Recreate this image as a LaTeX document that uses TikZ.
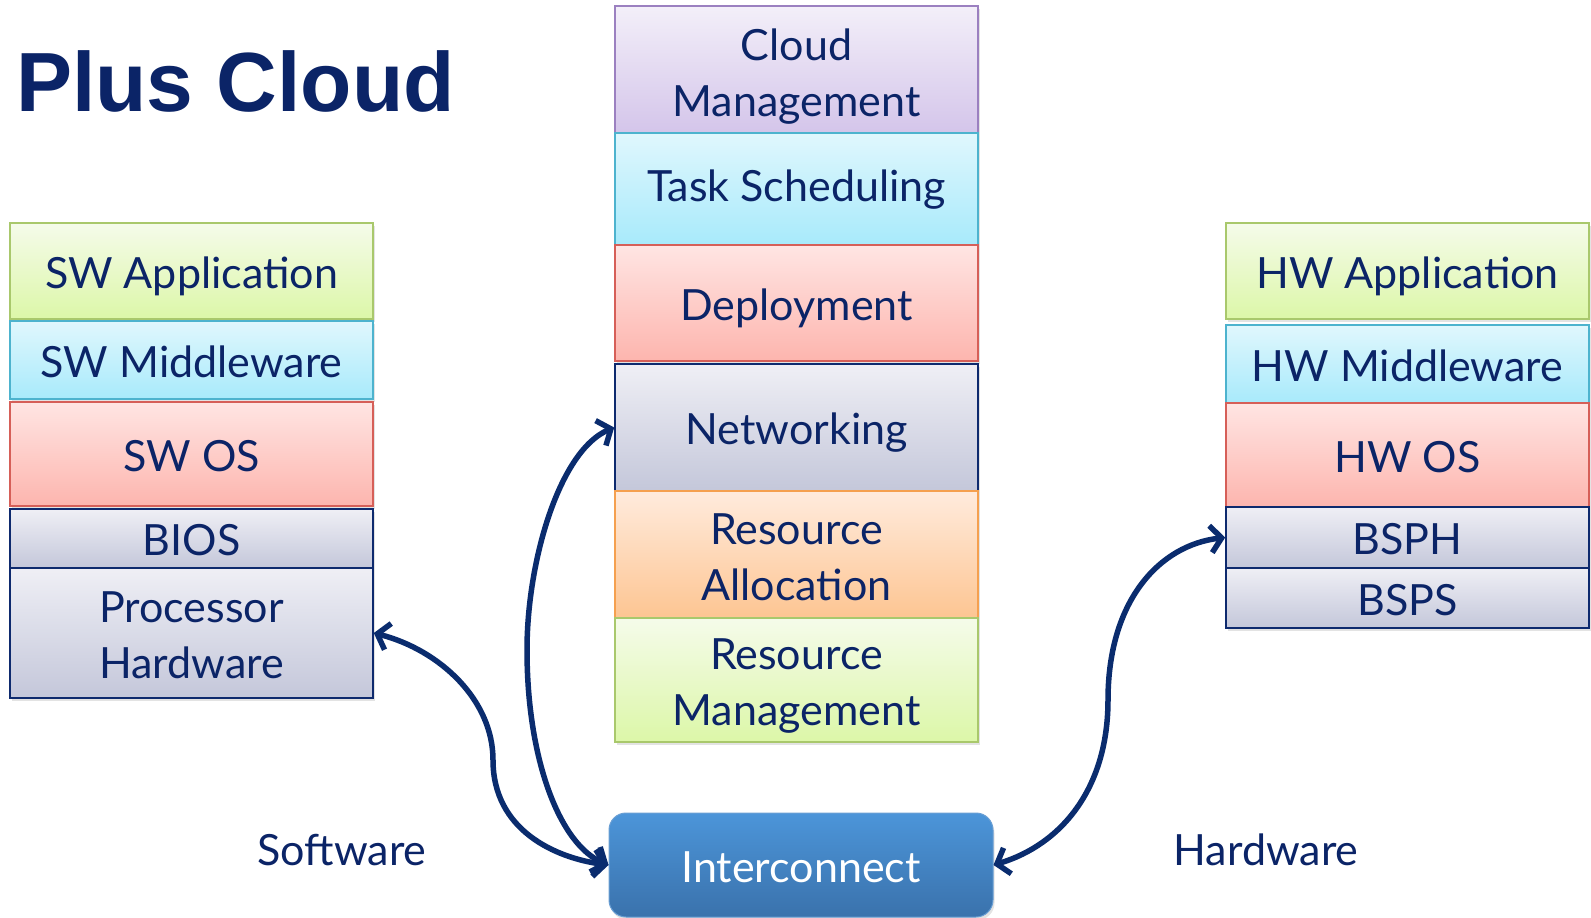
\documentclass[tikz,border=0pt]{standalone}
\usepackage{fontspec}
\setmainfont{Lato}
\newfontfamily\titlefont{Liberation Sans}
\usetikzlibrary{arrows.meta,shadows}
\definecolor{navy}{HTML}{0B2467}
\definecolor{arrowblue}{HTML}{0A2C6E}
\definecolor{bgblue}{HTML}{E1E7F3}
\definecolor{cPurD}{HTML}{9B80C0}
\definecolor{cPurT}{HTML}{F3EFF9}
\definecolor{cPurB}{HTML}{D4C5EA}
\definecolor{cCyaD}{HTML}{4DB3CE}
\definecolor{cCyaT}{HTML}{E0F7FD}
\definecolor{cCyaB}{HTML}{A8EAFB}
\definecolor{cRedD}{HTML}{D65F58}
\definecolor{cRedT}{HTML}{FFE5E3}
\definecolor{cRedB}{HTML}{FDB5AE}
\definecolor{cGryD}{HTML}{0E2A6E}
\definecolor{cGryT}{HTML}{EFEFF5}
\definecolor{cGryB}{HTML}{C4C7DA}
\definecolor{cOrgD}{HTML}{F5A04F}
\definecolor{cOrgT}{HTML}{FFEBDD}
\definecolor{cOrgB}{HTML}{FDC592}
\definecolor{cGrnD}{HTML}{A9C86C}
\definecolor{cGrnT}{HTML}{F5FBEA}
\definecolor{cGrnB}{HTML}{DCF7A8}
\definecolor{icTop}{HTML}{4C95D9}
\definecolor{icBot}{HTML}{3A72AC}
\definecolor{icDraw}{HTML}{6A9FD4}
\pgfdeclareradialshading{bgshade}{\pgfpoint{0bp}{0bp}}{color(0bp)=(white);color(50bp)=(white);color(68bp)=(bgblue);color(72bp)=(bgblue)}
\newcommand\mystr[2]{\rule[-#2]{0pt}{\dimexpr#1+#2\relax}}
\tikzset{
  layer/.style={draw, line width=1.6pt, minimum width=363pt, inner sep=0pt, align=center,
    text=navy, font=\fontsize{43}{56}\selectfont,
    drop shadow={shadow xshift=1.5pt, shadow yshift=-3pt, opacity=0.22}},
  one/.style={text height=34pt, text depth=0pt},
  lpurple/.style={layer, draw=cPurD, top color=cPurT, bottom color=cPurB},
  lcyan/.style={layer, draw=cCyaD, top color=cCyaT, bottom color=cCyaB},
  lred/.style={layer, draw=cRedD, top color=cRedT, bottom color=cRedB},
  lgray/.style={layer, draw=cGryD, top color=cGryT, bottom color=cGryB},
  lorange/.style={layer, draw=cOrgD, top color=cOrgT, bottom color=cOrgB},
  lgreen/.style={layer, draw=cGrnD, top color=cGrnT, bottom color=cGrnB},
  plainlabel/.style={text=navy, font=\fontsize{43}{56}\selectfont, inner sep=0pt, anchor=base},
  conn/.style={draw=arrowblue, line width=5.5pt, line cap=round,
    {Straight Barb[length=11pt,width=27pt,line width=5.5pt]}-{Straight Barb[length=11pt,width=27pt,line width=5.5pt]}}
}
\begin{document}
\begin{tikzpicture}[x=1pt,y=-1pt]
\useasboundingbox (0,0) rectangle (1591,918);
\shade[shading=bgshade] (0,0) rectangle (1591,918);

% title
\node[anchor=base west, inner sep=0pt, text=navy, font=\titlefont\bfseries\fontsize{84}{90}\selectfont] (title) at (16,111) {Plus Cloud};

% centre stack
\node[lpurple, minimum height=127pt] (cm) at (796.5,69.5) {\mystr{47pt}{0pt}Cloud\\Management\mystr{0pt}{10pt}};
\node[lcyan, minimum height=112pt, text height=24pt, text depth=0pt] (ts) at (796.5,189) {Task Scheduling};
\node[lred, minimum height=116pt, one] (dep) at (796.5,303) {Deployment};
\node[lgray, minimum height=127pt, one] (net) at (796.5,427.5) {Networking};
\node[lorange, minimum height=127pt] (ra) at (796.5,554.5) {\mystr{37pt}{0pt}Resource\\Allocation};
\node[lgreen, minimum height=124pt] (rm) at (796.5,680) {\mystr{44pt}{0pt}Resource\\Management\mystr{0pt}{10pt}};

% left stack
\node[lgreen, minimum height=96pt, one] (swapp) at (191.5,271) {SW Application};
\node[lcyan, minimum height=78pt, one] (swmid) at (191.5,360) {SW Middleware};
\node[lred, minimum height=104pt, one] (swos) at (191.5,454) {SW OS};
\node[lgray, minimum height=59pt, one] (bios) at (191.5,538.5) {BIOS};
\node[lgray, minimum height=130pt] (proc) at (191.5,633) {\mystr{35pt}{0pt}Processor\\Hardware};

% right stack
\node[lgreen, minimum height=96pt, one] (hwapp) at (1407.5,271) {HW Application};
\node[lcyan, minimum height=78pt, one] (hwmid) at (1407.5,364) {HW Middleware};
\node[lred, minimum height=104pt, one] (hwos) at (1407.5,455) {HW OS};
\node[lgray, minimum height=61pt, one] (bsph) at (1407.5,537.5) {BSPH};
\node[lgray, minimum height=60pt, one] (bsps) at (1407.5,598) {BSPS};

% interconnect
\node[draw=icDraw, line width=1pt, rounded corners=17pt, top color=icTop, bottom color=icBot,
  minimum width=384pt, minimum height=104pt, text=white, font=\fontsize{43}{56}\selectfont,
  text height=34pt, text depth=0pt,
  drop shadow={shadow xshift=1.5pt, shadow yshift=-3pt, opacity=0.22}] (ic) at (801,865) {Interconnect};

% labels
\node[plainlabel] (sw) at (342,865) {Software};
\node[plainlabel] (hw) at (1266,865) {Hardware};

% connectors
\coordinate (m1) at (493,760);
\coordinate (m2) at (527,650);
\coordinate (m3) at (1108,700);
\draw[conn] (proc.east) .. controls (440,650) and (493,700) .. (m1) .. controls (493,830) and (555,858) .. (ic.west);
\draw[conn] (net.west) .. controls (560,450) and (527,560) .. (m2) .. controls (527,760) and (560,845) .. (ic.west);
\draw[conn] (ic.east) .. controls (1060,845) and (1108,790) .. (m3) .. controls (1108,600) and (1160,545) .. (bsph.west);
\end{tikzpicture}
\end{document}
